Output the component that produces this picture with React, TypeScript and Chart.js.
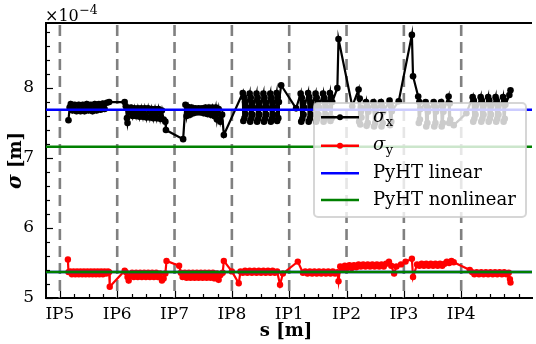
import React, { useEffect, useRef } from "react";
import { Chart, registerables } from "chart.js";
Chart.register(...registerables);

// ---------- data ----------
const ipLabels = ["IP5", "IP6", "IP7", "IP8", "IP1", "IP2", "IP3", "IP4"];
const ipPos = [0, 1, 2, 3, 4, 5, 6, 7]; // position along ring, in octants
const yMajorTicks = [5, 6, 7, 8];
const sMin = -0.242;
const sMax = 8.235;
const yMin = 5;
const yMax = 8.93;

// sigma_x (units of 1e-4 m)
const sigmaXPos = [
  0.15, 0.17, 0.19, 0.22, 0.26, 0.29, 0.33, 0.36, 0.40, 0.43, 0.47, 0.50, 0.54, 0.57, 0.61, 0.64, 0.68, 0.71, 0.75, 0.78, 0.82, 0.86, 1.13,
  1.15, 1.17, 1.18, 1.21, 1.24, 1.27, 1.30, 1.33, 1.36, 1.39, 1.42, 1.45, 1.48, 1.51, 1.54, 1.57, 1.60, 1.63, 1.66, 1.69, 1.72, 1.75, 1.78, 1.81, 1.84, 1.85, 2.15,
  2.19, 2.21, 2.24, 2.27, 2.30, 2.33, 2.36, 2.39, 2.42, 2.45, 2.48, 2.51, 2.54, 2.57, 2.60, 2.63, 2.66, 2.69, 2.72, 2.74, 2.77, 2.80, 2.83, 2.86,
  3.19, 3.20, 3.21, 3.22, 3.23, 3.24, 3.25,
  3.31, 3.32, 3.33, 3.34, 3.35, 3.36, 3.37,
  3.43, 3.44, 3.45, 3.46, 3.47, 3.48, 3.49,
  3.55, 3.56, 3.57, 3.58, 3.59, 3.60, 3.61,
  3.67, 3.68, 3.69, 3.70, 3.71, 3.72, 3.73,
  3.78, 3.79, 3.80, 3.81, 3.82,
  3.86, 4.12,
  4.20, 4.21, 4.22, 4.23, 4.24, 4.25, 4.26,
  4.33, 4.34, 4.35, 4.36, 4.37, 4.38, 4.39,
  4.46, 4.47, 4.48, 4.49, 4.50, 4.51, 4.52,
  4.59, 4.60, 4.61, 4.62, 4.63, 4.64, 4.65,
  4.71, 4.72, 4.73, 4.74, 4.75,
  4.84, 4.86, 5.10,
  5.21, 5.22, 5.23, 5.24, 5.25, 5.26,
  5.34, 5.35, 5.36, 5.37, 5.38,
  5.47, 5.48, 5.49, 5.50, 5.51,
  5.60, 5.61, 5.62, 5.63, 5.64,
  5.75, 5.76, 5.77, 5.78, 5.79,
  5.91, 6.14, 6.16, 6.25, 6.26, 6.27, 6.28, 6.29,
  6.38, 6.39, 6.40, 6.41, 6.42,
  6.52, 6.53, 6.54, 6.55, 6.56,
  6.65, 6.66, 6.67, 6.68, 6.69,
  6.78, 6.79, 6.80, 6.81, 6.87, 7.09,
  7.20, 7.21, 7.22, 7.23, 7.24, 7.25,
  7.34, 7.35, 7.36, 7.37, 7.38, 7.39,
  7.47, 7.48, 7.49, 7.50, 7.51, 7.52,
  7.60, 7.61, 7.62, 7.63, 7.64, 7.65,
  7.73, 7.74, 7.75, 7.76, 7.77,
  7.84, 7.86,
];
const sigmaXVal = [
  7.54, 7.72, 7.77, 7.68, 7.76, 7.67, 7.76, 7.67, 7.76, 7.67, 7.77, 7.68, 7.76, 7.67, 7.77, 7.68, 7.77, 7.69, 7.78, 7.70, 7.79, 7.80, 7.80,
  7.74, 7.57, 7.50, 7.66, 7.72, 7.60, 7.71, 7.60, 7.71, 7.59, 7.71, 7.59, 7.71, 7.58, 7.71, 7.58, 7.70, 7.57, 7.70, 7.57, 7.70, 7.56, 7.68, 7.55, 7.52, 7.40, 7.27,
  7.76, 7.60, 7.73, 7.62, 7.72, 7.64, 7.71, 7.65, 7.71, 7.65, 7.71, 7.64, 7.72, 7.63, 7.72, 7.62, 7.72, 7.60, 7.72, 7.55, 7.70, 7.52, 7.62, 7.33,
  7.93, 7.53, 7.87, 7.57, 7.80, 7.63, 7.73,
  7.92, 7.52, 7.86, 7.57, 7.79, 7.62, 7.72,
  7.92, 7.52, 7.86, 7.56, 7.79, 7.62, 7.72,
  7.92, 7.52, 7.86, 7.56, 7.79, 7.62, 7.72,
  7.92, 7.52, 7.86, 7.56, 7.79, 7.62, 7.72,
  7.93, 7.53, 7.87, 7.57, 7.80,
  8.04, 7.71,
  7.92, 7.52, 7.86, 7.56, 7.79, 7.62, 7.72,
  7.93, 7.52, 7.87, 7.56, 7.80, 7.62, 7.73,
  7.92, 7.52, 7.86, 7.56, 7.79, 7.62, 7.72,
  7.92, 7.52, 7.86, 7.56, 7.79, 7.62, 7.72,
  7.93, 7.53, 7.87, 7.57, 7.80,
  8.00, 8.70, 7.74,
  7.98, 7.52, 7.85, 7.48, 7.72, 7.58,
  7.80, 7.46, 7.74, 7.50, 7.66,
  7.80, 7.45, 7.74, 7.50, 7.66,
  7.80, 7.45, 7.74, 7.50, 7.66,
  7.82, 7.47, 7.75, 7.52, 7.67,
  7.81, 8.76, 8.17, 7.88, 7.50, 7.80, 7.55, 7.70,
  7.80, 7.45, 7.74, 7.50, 7.66,
  7.80, 7.45, 7.74, 7.50, 7.66,
  7.80, 7.45, 7.74, 7.50, 7.66,
  7.88, 7.50, 7.78, 7.55, 7.47, 7.64,
  7.87, 7.52, 7.82, 7.56, 7.76, 7.62,
  7.87, 7.52, 7.82, 7.56, 7.76, 7.62,
  7.87, 7.52, 7.82, 7.56, 7.76, 7.62,
  7.87, 7.52, 7.82, 7.56, 7.76, 7.62,
  7.87, 7.52, 7.82, 7.56, 7.76,
  7.90, 7.97,
];

// sigma_y (units of 1e-4 m)
const sigmaYPos = [
  0.14, 0.15, 0.18, 0.21, 0.24, 0.27, 0.30, 0.33, 0.36, 0.39, 0.42, 0.45, 0.48, 0.51, 0.54, 0.57, 0.60, 0.63, 0.66, 0.69, 0.72, 0.75, 0.78, 0.81, 0.84, 0.86,
  0.87, 1.13,
  1.15, 1.18, 1.20, 1.22, 1.26, 1.29, 1.33, 1.36, 1.40, 1.43, 1.47, 1.50, 1.54, 1.57, 1.61, 1.64, 1.68, 1.71, 1.75, 1.78, 1.81, 1.84,
  1.86, 2.08,
  2.11, 2.14, 2.18, 2.21, 2.25, 2.28, 2.32, 2.35, 2.39, 2.42, 2.46, 2.49, 2.53, 2.56, 2.60, 2.63, 2.67, 2.70, 2.74, 2.77, 2.80, 2.84,
  2.86, 3.00, 3.12, 3.15,
  3.19, 3.23, 3.27, 3.31, 3.35, 3.39, 3.43, 3.47, 3.51, 3.55, 3.59, 3.63, 3.67, 3.71, 3.75, 3.79,
  3.84, 3.89, 4.15, 4.24,
  4.28, 4.32, 4.36, 4.40, 4.44, 4.48, 4.52, 4.56, 4.60, 4.64, 4.68, 4.72, 4.76, 4.80, 4.84,
  4.86, 4.89,
  4.93, 4.97, 5.01, 5.05, 5.09, 5.13, 5.17, 5.21, 5.25, 5.29, 5.33, 5.37, 5.41, 5.45, 5.49, 5.53, 5.57, 5.61, 5.65, 5.69, 5.74, 5.78, 5.83,
  5.87, 5.95, 6.03, 6.14, 6.16,
  6.23, 6.27, 6.31, 6.35, 6.39, 6.43, 6.47, 6.51, 6.55, 6.59, 6.63, 6.67, 6.71,
  6.75, 6.79, 6.83, 6.87,
  7.15,
  7.19, 7.23, 7.27, 7.31, 7.35, 7.39, 7.43, 7.47, 7.51, 7.55, 7.59, 7.63, 7.67, 7.71, 7.75, 7.79, 7.83,
  7.85, 7.86,
];
const sigmaYVal = [
  5.55, 5.37, 5.38, 5.34, 5.38, 5.34, 5.38, 5.34, 5.38, 5.34, 5.38, 5.34, 5.38, 5.34, 5.38, 5.34, 5.38, 5.34, 5.38, 5.34, 5.38, 5.34, 5.38, 5.35, 5.38, 5.37,
  5.16, 5.39,
  5.37, 5.30, 5.25, 5.31, 5.36, 5.30, 5.36, 5.30, 5.36, 5.30, 5.36, 5.30, 5.36, 5.30, 5.36, 5.30, 5.36, 5.30, 5.35, 5.25, 5.28, 5.35,
  5.53, 5.46,
  5.36, 5.30, 5.36, 5.29, 5.36, 5.29, 5.36, 5.29, 5.36, 5.29, 5.36, 5.29, 5.36, 5.29, 5.36, 5.29, 5.36, 5.28, 5.35, 5.26, 5.33, 5.36,
  5.53, 5.38, 5.21, 5.38,
  5.36, 5.39, 5.36, 5.39, 5.36, 5.39, 5.36, 5.39, 5.36, 5.39, 5.36, 5.39, 5.36, 5.39, 5.36, 5.38,
  5.19, 5.35, 5.52, 5.36,
  5.38, 5.35, 5.38, 5.35, 5.38, 5.35, 5.38, 5.35, 5.38, 5.35, 5.38, 5.35, 5.38, 5.35, 5.37,
  5.24, 5.45,
  5.42, 5.46, 5.43, 5.47, 5.43, 5.47, 5.44, 5.48, 5.45, 5.48, 5.45, 5.48, 5.45, 5.48, 5.45, 5.48, 5.45, 5.48, 5.45, 5.49, 5.52, 5.46, 5.35,
  5.45, 5.48, 5.52, 5.56, 5.30,
  5.48, 5.46, 5.49, 5.46, 5.49, 5.46, 5.49, 5.46, 5.49, 5.46, 5.49, 5.46, 5.49,
  5.52, 5.50, 5.53, 5.51,
  5.40,
  5.37, 5.34, 5.37, 5.34, 5.37, 5.34, 5.37, 5.34, 5.37, 5.34, 5.37, 5.34, 5.37, 5.34, 5.37, 5.34, 5.36,
  5.27, 5.22,
];

// PyHT reference levels (units of 1e-4 m)
const pyhtLinearX = 7.69;
const pyhtNonlinearX = 7.16;
const pyhtLinearY = 5.37;
const pyhtNonlinearY = 5.37;

const SERIF = '"DejaVu Serif", "Liberation Serif", serif';

// legend entries: [main text, subscript, color, hasMarker]
const legendEntries: [string, string, string, boolean][] = [
  ["σ", "x", "#000000", true],
  ["σ", "y", "#ff0000", true],
  ["PyHT linear", "", "#0000ff", false],
  ["PyHT nonlinear", "", "#008000", false],
];

const toPts = (xs: number[], ys: number[]) => xs.map((x, i) => ({ x, y: ys[i] }));
const hline = (v: number) => [{ x: sMin, y: v }, { x: sMax, y: v }];

const decorPlugin = {
  id: "decor",
  beforeDatasetsDraw(chart: any) {
    const { ctx, chartArea: ca, scales } = chart;
    const xs = scales.x;
    ctx.save();
    ctx.beginPath();
    ctx.rect(ca.left, ca.top, ca.right - ca.left, ca.bottom - ca.top);
    ctx.clip();
    ctx.strokeStyle = "#808080";
    ctx.lineWidth = 2.6;
    ctx.setLineDash([11, 6]);
    for (const p of ipPos) {
      const x = xs.getPixelForValue(p);
      ctx.beginPath();
      ctx.moveTo(x, ca.top + 2);
      ctx.lineTo(x, ca.bottom);
      ctx.stroke();
    }
    ctx.restore();
  },
  afterDraw(chart: any) {
    const { ctx, chartArea: ca, scales } = chart;
    const xs = scales.x;
    const ys = scales.y;
    ctx.save();
    // top border
    ctx.strokeStyle = "#000";
    ctx.lineWidth = 2;
    ctx.beginPath();
    ctx.moveTo(ca.left - 1, ca.top);
    ctx.lineTo(ca.right, ca.top);
    ctx.stroke();
    // ticks (inward)
    ctx.lineWidth = 1.2;
    for (let v = Math.ceil(sMin / 0.25) * 0.25; v <= sMax + 1e-9; v += 0.25) {
      const major = Math.abs(v - Math.round(v)) < 1e-6 && ipPos.includes(Math.round(v));
      const x = Math.round(xs.getPixelForValue(v)) + 0.5;
      ctx.beginPath();
      ctx.moveTo(x, ca.bottom);
      ctx.lineTo(x, ca.bottom - (major ? 7 : 4));
      ctx.stroke();
    }
    for (let v = yMin; v <= yMax + 1e-9; v += 0.2) {
      const major = Math.abs(v - Math.round(v)) < 1e-6;
      const y = Math.round(ys.getPixelForValue(v)) + 0.5;
      ctx.beginPath();
      ctx.moveTo(ca.left, y);
      ctx.lineTo(ca.left + (major ? 7 : 4), y);
      ctx.stroke();
    }
    // exponent label
    ctx.fillStyle = "#000";
    ctx.textBaseline = "alphabetic";
    ctx.textAlign = "left";
    ctx.font = `16px ${SERIF}`;
    ctx.fillText("×10", ca.left - 1, 21);
    const w10 = ctx.measureText("×10").width;
    ctx.font = `12.5px ${SERIF}`;
    ctx.fillText("−4", ca.left - 1 + w10 + 0.5, 14);
    // x title
    ctx.font = `bold 18px ${SERIF}`;
    ctx.textAlign = "center";
    ctx.textBaseline = "middle";
    ctx.fillText("s [m]", (ca.left + ca.right) / 2 - 3, 331);
    // y title
    ctx.save();
    ctx.translate(16, (ca.top + ca.bottom) / 2);
    ctx.rotate(-Math.PI / 2);
    ctx.textAlign = "left";
    const f1 = `italic bold 20px ${SERIF}`;
    const f2 = `bold 18px ${SERIF}`;
    ctx.font = f1;
    const w1 = ctx.measureText("σ").width;
    ctx.font = f2;
    const w2 = ctx.measureText(" [m]").width;
    const x0 = -(w1 + w2) / 2;
    ctx.font = f1;
    ctx.fillText("σ", x0, 0);
    ctx.font = f2;
    ctx.fillText(" [m]", x0 + w1, 0);
    ctx.restore();

    // legend
    const lw = 212, lh = 114;
    const lx = ca.right - 218, ly = ca.top + 80;
    ctx.beginPath();
    (ctx as any).roundRect(lx, ly, lw, lh, 4);
    ctx.fillStyle = "rgba(255,255,255,0.8)";
    ctx.fill();
    ctx.strokeStyle = "rgba(204,204,204,0.8)";
    ctx.lineWidth = 2;
    ctx.stroke();
    const rows = [14.3, 42.7, 70.3, 97];
    legendEntries.forEach(([txt, sub, col, marker], i) => {
      const cy = ly + rows[i];
      ctx.strokeStyle = col;
      ctx.lineWidth = 2.5;
      ctx.beginPath();
      ctx.moveTo(lx + 7, cy);
      ctx.lineTo(lx + 45, cy);
      ctx.stroke();
      if (marker) {
        ctx.fillStyle = col;
        ctx.beginPath();
        ctx.arc(lx + 26, cy, 3, 0, Math.PI * 2);
        ctx.fill();
      }
      ctx.fillStyle = "#000";
      ctx.textAlign = "left";
      ctx.textBaseline = "middle";
      if (sub) {
        ctx.font = `italic 18px ${SERIF}`;
        ctx.fillText(txt, lx + 59, cy);
        const tw = ctx.measureText(txt).width;
        ctx.font = `13px ${SERIF}`;
        ctx.fillText(sub, lx + 59 + tw + 0.5, cy + 5);
      } else {
        ctx.font = `18px ${SERIF}`;
        ctx.fillText(txt, lx + 59, cy);
      }
    });
    ctx.restore();
  },
};

export default function App() {
  const ref = useRef<HTMLCanvasElement>(null);
  useEffect(() => {
    if (!ref.current) return;
    const chart = new Chart(ref.current, {
      type: "line",
      data: {
        datasets: [
          { label: "PyHT nonlinear y", data: hline(pyhtNonlinearY), borderColor: "#008000", borderWidth: 2.5, pointRadius: 0, order: 0 },
          { label: "PyHT linear y", data: hline(pyhtLinearY), borderColor: "#0000ff", borderWidth: 2.5, pointRadius: 0, order: 1 },
          { label: "PyHT linear", data: hline(pyhtLinearX), borderColor: "#0000ff", borderWidth: 2.5, pointRadius: 0, order: 0 },
          { label: "PyHT nonlinear", data: hline(pyhtNonlinearX), borderColor: "#008000", borderWidth: 2.5, pointRadius: 0, order: 0 },
          {
            label: "σx", data: toPts(sigmaXPos, sigmaXVal), borderColor: "#000000", backgroundColor: "#000000",
            borderWidth: 2.2, pointRadius: 3.3, pointBorderWidth: 0, pointBackgroundColor: "#000000", order: 5,
          },
          {
            label: "σy", data: toPts(sigmaYPos, sigmaYVal), borderColor: "#ff0000", backgroundColor: "#ff0000",
            borderWidth: 2.2, pointRadius: 3.2, pointBorderWidth: 0, pointBackgroundColor: "#ff0000", order: 5,
          },
        ],
      },
      options: {
        animation: false,
        responsive: false,
        devicePixelRatio: 1,
        layout: { padding: { top: 23, right: 0, left: 0, bottom: 0 } },
        plugins: { legend: { display: false }, tooltip: { enabled: false } },
        elements: { line: { tension: 0 } },
        scales: {
          x: {
            type: "linear",
            min: sMin,
            max: sMax,
            grid: { display: false },
            border: { display: true, color: "#000", width: 2 },
            afterBuildTicks: (s: any) => { s.ticks = ipPos.map((v) => ({ value: v })); },
            afterFit: (s: any) => { s.height = 46; s.paddingLeft = 0; s.paddingRight = 0; },
            ticks: {
              autoSkip: false,
              maxRotation: 0,
              padding: -2,
              color: "#000",
              font: { family: SERIF, size: 17 },
              callback: (_v: any, i: number) => ipLabels[i],
            },
          },
          y: {
            type: "linear",
            min: yMin,
            max: yMax,
            grid: { display: false },
            border: { display: true, color: "#000", width: 2 },
            afterBuildTicks: (s: any) => { s.ticks = yMajorTicks.map((v) => ({ value: v })); },
            afterFit: (s: any) => { s.width = 46; s.paddingTop = 0; s.paddingBottom = 0; },
            ticks: {
              padding: 4,
              color: "#000",
              font: { family: SERIF, size: 17 },
              callback: (v: any) => String(v),
            },
          },
        },
      },
      plugins: [decorPlugin],
    } as any);
    return () => chart.destroy();
  }, []);
  return (
    <div style={{ position: "fixed", left: 0, top: 0, width: 536, height: 344, background: "#fff" }}>
      <canvas ref={ref} width={536} height={344} style={{ display: "block" }} />
    </div>
  );
}
